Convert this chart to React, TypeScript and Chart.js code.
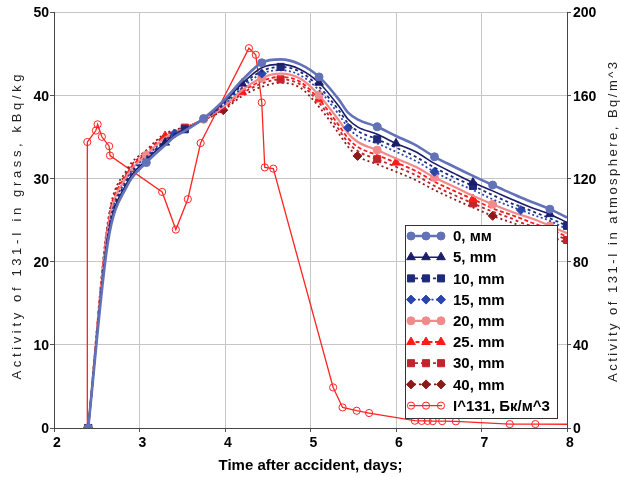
import React, { useEffect, useRef } from 'react';
import { Chart, registerables } from 'chart.js';

Chart.register(...registerables);

const FONT = "'Liberation Sans', Arial, Helvetica, sans-serif";

// Time after accident, days (shared grid of the grass curves)
const days = [2.40, 2.63, 2.85, 3.08, 3.30, 3.41, 3.53, 3.75, 3.98, 4.20, 4.43, 4.65, 4.88, 5.10, 5.33, 5.44, 5.55, 5.78, 6.00, 6.23, 6.45, 6.68, 6.90, 7.13, 7.35, 7.46, 7.58, 7.80, 8.00];

// Activity of 131-I in grass, kBq/kg
const grass0 = [0, 22.3, 29.0, 31.9, 34.0, 35.0, 35.7, 37.2, 39.3, 41.8, 43.9, 44.3, 43.7, 42.2, 39.5, 37.9, 37.1, 36.2, 35.1, 34.0, 32.6, 31.4, 30.3, 29.2, 28.2, 27.7, 27.2, 26.3, 25.3];
const grass5 = [0, 22.8, 29.4, 32.2, 34.3, 35.2, 35.8, 37.2, 39.1, 41.4, 43.3, 43.7, 43.1, 41.5, 38.7, 37.1, 36.2, 35.3, 34.2, 33.2, 31.8, 30.6, 29.5, 28.5, 27.5, 27.0, 26.5, 25.7, 24.7];
const grass10 = [0, 23.1, 29.7, 32.4, 34.5, 35.3, 35.9, 37.1, 38.9, 41.2, 42.9, 43.4, 42.8, 41.0, 38.2, 36.6, 35.7, 34.7, 33.7, 32.6, 31.3, 30.1, 29.1, 28.0, 27.0, 26.6, 26.1, 25.2, 24.3];
const grass15 = [0, 23.4, 29.9, 32.6, 34.6, 35.4, 35.9, 37.1, 38.8, 40.9, 42.6, 43.0, 42.4, 40.6, 37.7, 36.1, 35.1, 34.2, 33.2, 32.1, 30.8, 29.6, 28.6, 27.5, 26.6, 26.2, 25.7, 24.9, 23.9];
const grass20 = [0, 23.9, 30.2, 32.8, 34.9, 35.5, 36.0, 37.1, 38.6, 40.6, 42.1, 42.6, 42.0, 40.0, 37.0, 35.4, 34.4, 33.4, 32.4, 31.4, 30.1, 29.0, 27.9, 26.9, 26.0, 25.6, 25.2, 24.3, 23.4];
const grass25 = [0, 24.2, 30.5, 33.0, 35.1, 35.6, 36.1, 37.1, 38.5, 40.4, 41.7, 42.2, 41.6, 39.5, 36.4, 34.8, 33.8, 32.8, 31.9, 30.9, 29.6, 28.5, 27.5, 26.4, 25.6, 25.2, 24.7, 23.9, 23.0];
const grass30 = [0, 24.5, 30.7, 33.2, 35.2, 35.7, 36.1, 37.0, 38.3, 40.2, 41.4, 41.9, 41.3, 39.1, 35.9, 34.3, 33.3, 32.3, 31.4, 30.4, 29.1, 28.0, 27.0, 26.0, 25.2, 24.7, 24.3, 23.5, 22.6];
const grass40 = [0, 24.8, 31.0, 33.4, 35.4, 35.8, 36.2, 37.0, 38.2, 39.9, 41.0, 41.5, 40.9, 38.6, 35.4, 33.8, 32.7, 31.7, 30.8, 29.8, 28.6, 27.5, 26.5, 25.5, 24.7, 24.3, 23.9, 23.1, 22.2];

// Activity of 131-I in atmosphere, Bq/m^3
const atmDays = [2.39, 2.39, 2.49, 2.51, 2.56, 2.645, 2.655, 3.265, 3.425, 3.565, 3.715, 4.28, 4.36, 4.43, 4.465, 4.565, 5.265, 5.375, 5.54, 5.685, 6.22, 6.30, 6.37, 6.43, 6.54, 6.70, 7.33, 7.63, 8.0];
const atmI131 = [0, 137.5, 143, 146, 140, 135.5, 131, 113.5, 95.4, 110, 137, 182.6, 179.4, 156.5, 125.3, 124.7, 19.5, 9.9, 8.3, 7.2, 3.5, 3.4, 3.4, 3.3, 3.3, 3.2, 1.9, 1.9, 1.8];

const seriesLabels = ['0, мм', '5, mm', '10, mm', '15, mm', '20, mm', '25. mm', '30, mm', '40, mm'];
const atmLabel = 'I^131, Бк/м^3';

const xTitle = 'Time after accident, days;';
const yTitle = 'Activity of 131-I in grass, kBq/kg';
const y2Title = 'Activity of 131-I in atmosphere, Bq/m^3';

const MARK_BASE = 0.2255;
function markerRadii(step: number, r: number) {
  return days.map((d) => {
    const k = (d - days[0]) / MARK_BASE / step;
    return Math.abs(k - Math.round(k)) < 0.05 ? r : 0;
  });
}

type Style = { color: string; dash: number[]; width: number; point: string; r: number; step: number };
const styles: Style[] = [
  { color: '#6272B8', dash: [], width: 2.6, point: 'circle', r: 4, step: 3 },
  { color: '#1B1D6B', dash: [], width: 1.6, point: 'triangle', r: 5, step: 4 },
  { color: '#1E2A78', dash: [3, 3], width: 1.8, point: 'rect', r: 5, step: 5 },
  { color: '#2B45AE', dash: [2, 2.5], width: 1.8, point: 'rectRot', r: 4.5, step: 4.5 },
  { color: '#F28A8C', dash: [], width: 2.2, point: 'circle', r: 4, step: 3 },
  { color: '#FF1A1A', dash: [4, 2.5], width: 1.8, point: 'triangle', r: 5, step: 4 },
  { color: '#C2232C', dash: [3, 3], width: 1.8, point: 'rect', r: 5, step: 5 },
  { color: '#8B1B1B', dash: [2, 3], width: 1.8, point: 'rectRot', r: 4.5, step: 7 },
];

function drawMarker(ctx: CanvasRenderingContext2D, style: string, x: number, y: number, r: number, fill: string, stroke: string) {
  ctx.beginPath();
  if (style === 'circle') ctx.arc(x, y, r, 0, Math.PI * 2);
  else if (style === 'triangle') {
    ctx.moveTo(x, y - r);
    ctx.lineTo(x + r * 0.866, y + r * 0.5);
    ctx.lineTo(x - r * 0.866, y + r * 0.5);
    ctx.closePath();
  } else if (style === 'rect') {
    const s = r * Math.SQRT1_2;
    ctx.rect(x - s, y - s, 2 * s, 2 * s);
  } else {
    ctx.moveTo(x, y - r);
    ctx.lineTo(x + r, y);
    ctx.lineTo(x, y + r);
    ctx.lineTo(x - r, y);
    ctx.closePath();
  }
  ctx.fillStyle = fill;
  ctx.fill();
  ctx.strokeStyle = stroke;
  ctx.lineWidth = 1;
  ctx.stroke();
}

// vertical title, reading bottom-to-top, spread over a given length
function drawVerticalTitle(ctx: CanvasRenderingContext2D, text: string, cx: number, cy: number, length: number) {
  ctx.save();
  ctx.translate(cx, cy);
  ctx.rotate(-Math.PI / 2);
  ctx.fillStyle = '#222';
  ctx.font = `13px ${FONT}`;
  ctx.textAlign = 'left';
  ctx.textBaseline = 'middle';
  const natural = ctx.measureText(text).width;
  const gap = Math.max(0, (length - natural) / (text.length - 1));
  let x = -length / 2;
  for (const ch of text) {
    ctx.fillText(ch, x, 0);
    x += ctx.measureText(ch).width + gap;
  }
  ctx.restore();
}

const boxLegend = {
  id: 'boxLegend',
  afterDatasetsDraw(chart: any) {
    const ctx: CanvasRenderingContext2D = chart.ctx;
    const area = chart.chartArea;
    const w = 152, h = 193;
    const x0 = area.right - 162, y0 = area.bottom - 203;
    ctx.save();
    ctx.fillStyle = '#fff';
    ctx.fillRect(x0, y0, w, h);
    ctx.strokeStyle = '#333';
    ctx.lineWidth = 1;
    ctx.setLineDash([]);
    ctx.strokeRect(x0 + 0.5, y0 + 0.5, w, h);
    chart.data.datasets.forEach((ds: any, i: number) => {
      const y = y0 + 11 + i * 21.2;
      ctx.save();
      ctx.setLineDash(ds.borderDash || []);
      ctx.strokeStyle = ds.borderColor;
      ctx.lineWidth = ds.borderWidth;
      ctx.beginPath();
      ctx.moveTo(x0 + 4, y);
      ctx.lineTo(x0 + 37, y);
      ctx.stroke();
      ctx.restore();
      ctx.setLineDash([]);
      [x0 + 6, x0 + 21, x0 + 36].forEach((mx) =>
        drawMarker(ctx, ds.pointStyle, mx, y, ds.legendRadius, ds.pointBackgroundColor, ds.pointBorderColor)
      );
      ctx.fillStyle = '#000';
      ctx.font = `bold 15px ${FONT}`;
      ctx.textBaseline = 'middle';
      ctx.textAlign = 'left';
      ctx.fillText(ds.label, x0 + 48, y + 1);
    });
    ctx.restore();
  },
  afterDraw(chart: any) {
    const ctx: CanvasRenderingContext2D = chart.ctx;
    drawVerticalTitle(ctx, yTitle, 17, 227, 305);
    drawVerticalTitle(ctx, y2Title, 613, 222, 320);
  },
};

export default function App() {
  const ref = useRef<HTMLCanvasElement | null>(null);
  useEffect(() => {
    document.body.style.margin = '0';
    if (!ref.current) return;
    Chart.defaults.font.family = FONT;
    const grassSets = [grass0, grass5, grass10, grass15, grass20, grass25, grass30, grass40].map((vals, i) => {
      const s = styles[i];
      return {
        label: seriesLabels[i],
        data: days.map((d, j) => ({ x: d, y: vals[j] })),
        yAxisID: 'y',
        borderColor: s.color,
        backgroundColor: s.color,
        borderWidth: s.width,
        borderDash: s.dash,
        pointStyle: s.point,
        pointRadius: markerRadii(s.step, s.r),
        pointBackgroundColor: s.color,
        pointBorderColor: s.color,
        pointBorderWidth: 1,
        legendRadius: s.r,
        cubicInterpolationMode: 'monotone',
        fill: false,
      };
    });
    const atmSet = {
      label: atmLabel,
      data: atmDays.map((d, j) => ({ x: d, y: atmI131[j] })),
      yAxisID: 'y2',
      borderColor: '#FF2424',
      backgroundColor: 'rgba(255,255,255,0)',
      borderWidth: 1.3,
      borderDash: [],
      pointStyle: 'circle',
      pointRadius: atmDays.map((_, j) => (j === atmDays.length - 1 ? 0 : 3.6)),
      pointBackgroundColor: 'rgba(255,255,255,0)',
      pointBorderColor: '#FF2424',
      pointBorderWidth: 1,
      legendRadius: 3.6,
      tension: 0,
      fill: false,
    };
    const tickFont = { family: FONT, size: 14, weight: 'bold' as const };
    const chart = new Chart(ref.current, {
      type: 'line',
      data: { datasets: [...grassSets, atmSet] as any },
      options: {
        responsive: false,
        animation: false,
        layout: { padding: { top: 12, left: 0, right: 0, bottom: 0 } },
        plugins: { legend: { display: false }, tooltip: { enabled: false } },
        scales: {
          x: {
            type: 'linear',
            min: 2,
            max: 8,
            ticks: { stepSize: 1, font: tickFont, color: '#000', padding: 3, labelOffset: 3 },
            grid: { color: '#C6C6C6', lineWidth: 1, tickLength: 4, tickColor: '#555' },
            border: { color: '#444', width: 1 },
            title: { display: true, text: xTitle, font: { family: FONT, size: 15, weight: 'bold' }, color: '#000', padding: { top: 0, bottom: 2 } },
            afterFit: (s: any) => { s.height = 49; },
          },
          y: {
            type: 'linear',
            position: 'left',
            min: 0,
            max: 50,
            ticks: { stepSize: 10, font: tickFont, color: '#000', padding: 1, labelOffset: 1.5 },
            grid: { color: '#C6C6C6', lineWidth: 1, tickLength: 4, tickColor: '#555' },
            border: { color: '#444', width: 1 },
            title: { display: false, text: yTitle },
            afterFit: (s: any) => { s.width = 54; },
          },
          y2: {
            type: 'linear',
            position: 'right',
            min: 0,
            max: 200,
            ticks: { stepSize: 40, font: tickFont, color: '#000', padding: 2, labelOffset: 1.5 },
            grid: { drawOnChartArea: false, tickLength: 4, tickColor: '#555' },
            border: { color: '#444', width: 1 },
            afterFit: (s: any) => { s.width = 53; },
          },
        },
      } as any,
      plugins: [boxLegend],
    });
    return () => chart.destroy();
  }, []);
  return <canvas ref={ref} width={620} height={477} style={{ display: 'block' }} />;
}
